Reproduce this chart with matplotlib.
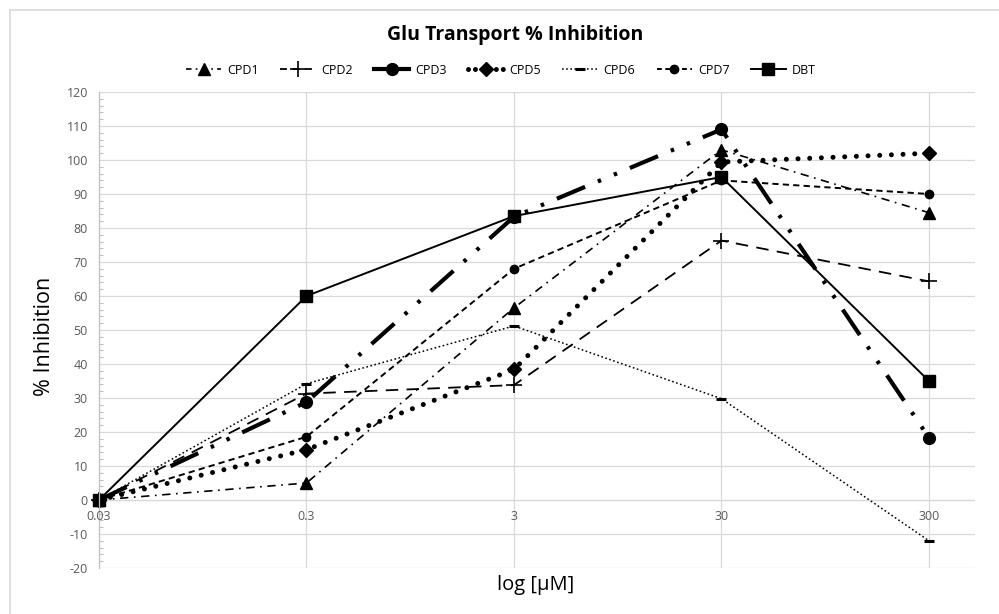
import matplotlib
matplotlib.use("Agg")
import matplotlib.pyplot as plt
from matplotlib.ticker import MultipleLocator, NullLocator
from matplotlib.lines import Line2D

plt.rcParams['font.family'] = ['Open Sans', 'DejaVu Sans']
plt.rcParams['lines.scale_dashes'] = False
plt.rcParams['axes.unicode_minus'] = False

# ---- data ----
concentrations = [0.03, 0.3, 3, 30, 300]
x_tick_labels = ["0.03", "0.3", "3", "30", "300"]
series_names = ["CPD1", "CPD2", "CPD3", "CPD5", "CPD6", "CPD7", "DBT"]
cpd1 = [0, 5, 56.5, 103, 84.5]
cpd2 = [0, 31.3, 33.8, 76.3, 64.3]
cpd3 = [0, 28.8, 83.3, 109, 18.3]
cpd5 = [0, 14.8, 38.4, 99.4, 102]
cpd6 = [0, 34.2, 51.2, 29.8, -12]
cpd7 = [0, 18.6, 68, 94, 90]
dbt = [0, 60, 83.5, 95, 35]
y_ticks = list(range(-20, 121, 10))

styles = [
    dict(ls=(0, (6, 4, 1.2, 4)), lw=1.2, marker='^', ms=8),
    dict(ls=(0, (9, 6)), lw=1.3, marker='+', ms=11, mew=1.2),
    dict(ls=(0, (22, 10, 2.5, 10, 2.5, 10)), lw=3.0, marker='o', ms=8.5),
    dict(ls=(0, (0.01, 8.4)), lw=3.6, marker='D', ms=7, dash_capstyle='round'),
    dict(ls=(0, (1.2, 1.8)), lw=1.1, marker='_', ms=7, mew=2.2),
    dict(ls=(0, (4.5, 3)), lw=1.4, marker='o', ms=6),
    dict(ls='-', lw=1.4, marker='s', ms=8.5),
]
legend_ls = [
    (0, (4, 3, 1.2, 3)),
    (0, (5, 4)),
    '-',
    (0, (0.01, 5)),
    (0, (1.2, 1.8)),
    (0, (3.5, 2.5)),
    '-',
]
data = [cpd1, cpd2, cpd3, cpd5, cpd6, cpd7, dbt]

fig = plt.figure(figsize=(9.99, 6.14), dpi=100)
ax = fig.add_axes([99/999, 1-568/614, 876/999, 476/614])
ax.set_xscale('log')
ax.set_xlim(0.03, 500)
ax.set_ylim(-20, 120)

ax.set_yticks(y_ticks)
ax.yaxis.set_minor_locator(MultipleLocator(2))
ax.set_xticks(concentrations[1:])
ax.xaxis.set_minor_locator(NullLocator())
ax.set_xticklabels([])
ax.tick_params(axis='x', length=0)
ax.tick_params(axis='y', which='major', length=0, pad=8, labelsize=9, labelcolor='#595959')
ax.tick_params(axis='y', which='minor', direction='in', length=3, color='#bfbfbf', width=0.8)
ax.grid(True, which='major', color='#d9d9d9', lw=0.9)
ax.set_axisbelow(True)
for s in ['top', 'right', 'bottom']:
    ax.spines[s].set_visible(False)
ax.spines['left'].set_color('#bfbfbf')
ax.spines['left'].set_linewidth(0.9)
ax.axhline(0, color='#d9d9d9', lw=0.9, zorder=0.5)

for xv, lab in zip(concentrations, x_tick_labels):
    ax.annotate(lab, (xv, 0), xytext=(0, -12), textcoords='offset points',
                ha='center', va='center', fontsize=9, color='#595959')

handles = []
for name, vals, st, lls in zip(series_names, data, styles, legend_ls):
    st = dict(st)
    ls = st.pop('ls')
    ax.plot(concentrations, vals, color='black', linestyle=ls,
            mfc='black', mec='black', clip_on=False, **st)
    handles.append(Line2D([], [], color='black', linestyle=lls,
                          mfc='black', mec='black', **st))

fig.legend(handles, series_names, loc='center', bbox_to_anchor=(501/999, 1-70/614),
           ncol=7, frameon=False, fontsize=9, handlelength=2.8, columnspacing=1.7,
           handletextpad=0.5, numpoints=1)

fig.text(515/999, 1-35/614, 'Glu Transport % Inhibition', ha='center', va='center',
         fontsize=14, fontweight='bold')
fig.text(536/999, 1-585/614, 'log [μM]', ha='center', va='center', fontsize=14.5)
fig.text(45/999, 1-336/614, '% Inhibition', ha='center', va='center', fontsize=15.5,
         rotation=90)

# outer chart border
fig.add_artist(Line2D([9.5/999, 9.5/999], [0, 1-9.5/614], transform=fig.transFigure,
                      color='#d9d9d9', lw=1.2))
fig.add_artist(Line2D([9.5/999, 1], [1-9.5/614, 1-9.5/614], transform=fig.transFigure,
                      color='#d9d9d9', lw=1.2))

fig.savefig('out.png', dpi=100)
